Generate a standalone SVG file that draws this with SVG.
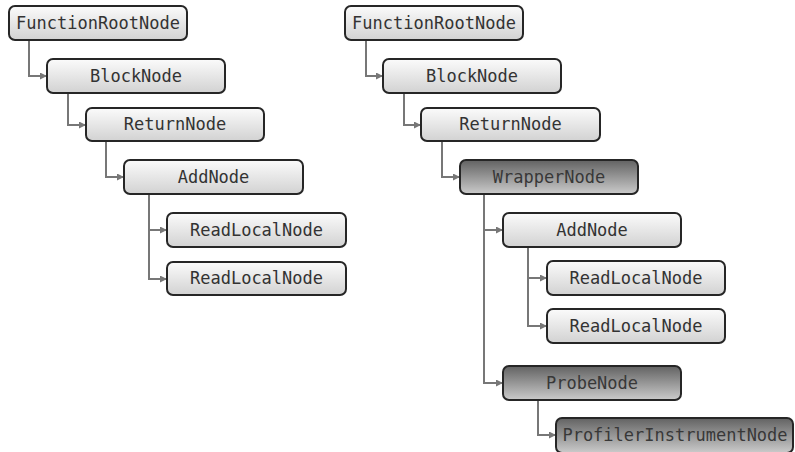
<svg xmlns="http://www.w3.org/2000/svg" width="795" height="452" viewBox="0 0 795 452">
<defs>
<linearGradient id="gl" x1="0" y1="0" x2="0" y2="1">
<stop offset="0" stop-color="#fbfbfb"/>
<stop offset="1" stop-color="#d2d2d2"/>
</linearGradient>
<linearGradient id="gd" x1="0" y1="0" x2="0" y2="1">
<stop offset="0" stop-color="#626262"/>
<stop offset="1" stop-color="#cbcbcb"/>
</linearGradient>
<marker id="ah" viewBox="0 0 10 10" refX="10" refY="5" markerWidth="9" markerHeight="7" markerUnits="userSpaceOnUse" orient="auto">
<path d="M0,0 L10,5 L0,10 z" fill="#777"/>
</marker>
<style>
.n rect{stroke:#262626;stroke-width:2;}
.l rect{fill:url(#gl);}
.d rect{fill:url(#gd);}
.n text{font-family:"DejaVu Sans Mono",monospace;font-size:17px;text-anchor:middle;fill:#333;}
.d text{fill:#383838;}
.c path{fill:none;stroke:#777;stroke-width:2;marker-end:url(#ah);}
</style>
</defs>
<g id="connectors" class="c">
<path d="M29,40 V76 H47"/>
<path d="M68,93 V125 H86"/>
<path d="M106,141 V177 H124"/>
<path d="M149,194 V230 H167"/>
<path d="M149,194 V279 H167"/>
<path d="M366,40 V76 H383"/>
<path d="M404,93 V125 H421"/>
<path d="M442,141 V177 H460"/>
<path d="M484,194 V230 H503"/>
<path d="M484,194 V383 H503"/>
<path d="M528,247 V278 H547"/>
<path d="M528,247 V326 H547"/>
<path d="M538,400 V435 H556"/>
</g>
<g id="l-root" class="n l"><rect x="9" y="6" width="178" height="34" rx="6"/><text x="98" y="29">FunctionRootNode</text></g>
<g id="l-block" class="n l"><rect x="47" y="59" width="178" height="34" rx="6"/><text x="136" y="82">BlockNode</text></g>
<g id="l-return" class="n l"><rect x="86" y="108" width="178" height="33" rx="6"/><text x="175" y="130">ReturnNode</text></g>
<g id="l-add" class="n l"><rect x="124" y="160" width="179" height="34" rx="6"/><text x="213.5" y="183">AddNode</text></g>
<g id="l-read1" class="n l"><rect x="167" y="213" width="179" height="34" rx="6"/><text x="256.5" y="236">ReadLocalNode</text></g>
<g id="l-read2" class="n l"><rect x="167" y="262" width="179" height="33" rx="6"/><text x="256.5" y="284">ReadLocalNode</text></g>
<g id="r-root" class="n l"><rect x="345" y="6" width="178" height="34" rx="6"/><text x="434" y="29">FunctionRootNode</text></g>
<g id="r-block" class="n l"><rect x="383" y="59" width="178" height="34" rx="6"/><text x="472" y="82">BlockNode</text></g>
<g id="r-return" class="n l"><rect x="421" y="108" width="179" height="33" rx="6"/><text x="510.5" y="130">ReturnNode</text></g>
<g id="r-wrapper" class="n d"><rect x="460" y="160" width="178" height="34" rx="6"/><text x="549" y="183">WrapperNode</text></g>
<g id="r-add" class="n l"><rect x="503" y="213" width="178" height="34" rx="6"/><text x="592" y="236">AddNode</text></g>
<g id="r-read1" class="n l"><rect x="547" y="261" width="178" height="34" rx="6"/><text x="636" y="284">ReadLocalNode</text></g>
<g id="r-read2" class="n l"><rect x="547" y="309" width="178" height="34" rx="6"/><text x="636" y="332">ReadLocalNode</text></g>
<g id="r-probe" class="n d"><rect x="503" y="366" width="178" height="34" rx="6"/><text x="592" y="389">ProbeNode</text></g>
<g id="r-profiler" class="n d"><rect x="556" y="418" width="237" height="35" rx="6"/><text x="675" y="441">ProfilerInstrumentNode</text></g>
</svg>
